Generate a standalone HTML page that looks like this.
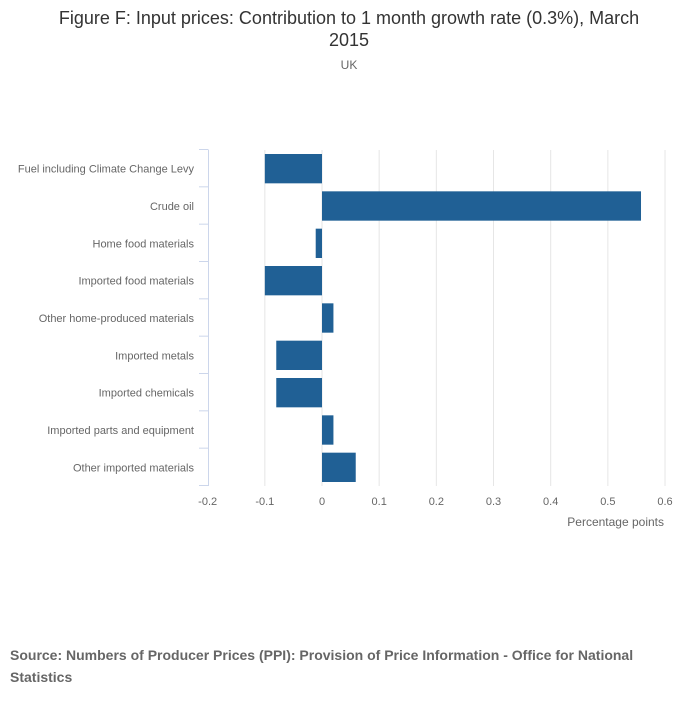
<!DOCTYPE html>
<html><head><meta charset="utf-8"><style>
body{margin:0;background:#fff;font-family:"Liberation Sans",sans-serif;}
#wrap{position:relative;width:700px;height:707px;}
</style></head><body>
<div id="wrap">
<svg width="700" height="707" id="svg">
<text x="349" y="24" text-anchor="middle" font-size="18" fill="#333">Figure F: Input prices: Contribution to 1 month growth rate (0.3%), March</text>
<text x="349" y="46" text-anchor="middle" font-size="18" fill="#333">2015</text>
<text x="349" y="69" text-anchor="middle" font-size="12" fill="#666">UK</text>
<g id="grid"></g><g id="bars"></g><g id="yax"></g><g id="xax"></g>
<text x="664" y="526" text-anchor="end" font-size="12" fill="#666">Percentage points</text>
<text x="10" y="660" font-size="14" font-weight="bold" fill="#666">Source: Numbers of Producer Prices (PPI): Provision of Price Information - Office for National</text>
<text x="10" y="682" font-size="14" font-weight="bold" fill="#666">Statistics</text>
</svg></div>
<script>
const categories=["Fuel including Climate Change Levy","Crude oil","Home food materials","Imported food materials","Other home-produced materials","Imported metals","Imported chemicals","Imported parts and equipment","Other imported materials"];
const values=[-0.1,0.558,-0.011,-0.1,0.02,-0.08,-0.08,0.02,0.059];
const xTicks=[-0.2,-0.1,0,0.1,0.2,0.3,0.4,0.5,0.6];
const xTickLabels=["-0.2","-0.1","0","0.1","0.2","0.3","0.4","0.5","0.6"];
const NS="http://www.w3.org/2000/svg";
const xs=v=>322+(v/0.1)*57.17;
const plotTop=150,plotBottom=486,step=(plotBottom-plotTop)/categories.length;
const ys=i=>plotTop+i*step;
function mk(t,a,p){const e=document.createElementNS(NS,t);for(const k in a)e.setAttribute(k,a[k]);p.appendChild(e);return e;}
const g=document.getElementById('grid'),b=document.getElementById('bars'),ya=document.getElementById('yax'),xa=document.getElementById('xax');
xTicks.forEach((t,i)=>{
 if(i>0){const l=mk('line',{x1:xs(t),x2:xs(t),y1:plotTop,y2:plotBottom,stroke:'#e6e6e6','stroke-width':1},g);
 
 }
 const tx=mk('text',{x:xs(t),y:505,'text-anchor':'middle','font-size':11,fill:'#666'},xa);
 tx.textContent=xTickLabels[i];
 
 
});
const ax=mk('line',{x1:208.5,x2:208.5,y1:plotTop,y2:plotBottom,stroke:'#ccd6eb','stroke-width':1},ya);


for(let i=0;i<=categories.length;i++){
 const tk=mk('line',{x1:199,x2:208.5,y1:ys(i)-0.5,y2:ys(i)-0.5,stroke:'#ccd6eb','stroke-width':1},ya);
 
 
}
categories.forEach((c,i)=>{
 const tx=mk('text',{x:194,y:ys(i)+step/2+4,'text-anchor':'end','font-size':11,fill:'#666'},ya);
 tx.textContent=c;
 
 
 const v=values[i];
 const r=mk('rect',{x:Math.min(xs(0),xs(v)),y:ys(i)+4,width:Math.abs(xs(v)-xs(0)),height:step-8,fill:'#206095'},b);
 
 
});
</script>
</body></html>
